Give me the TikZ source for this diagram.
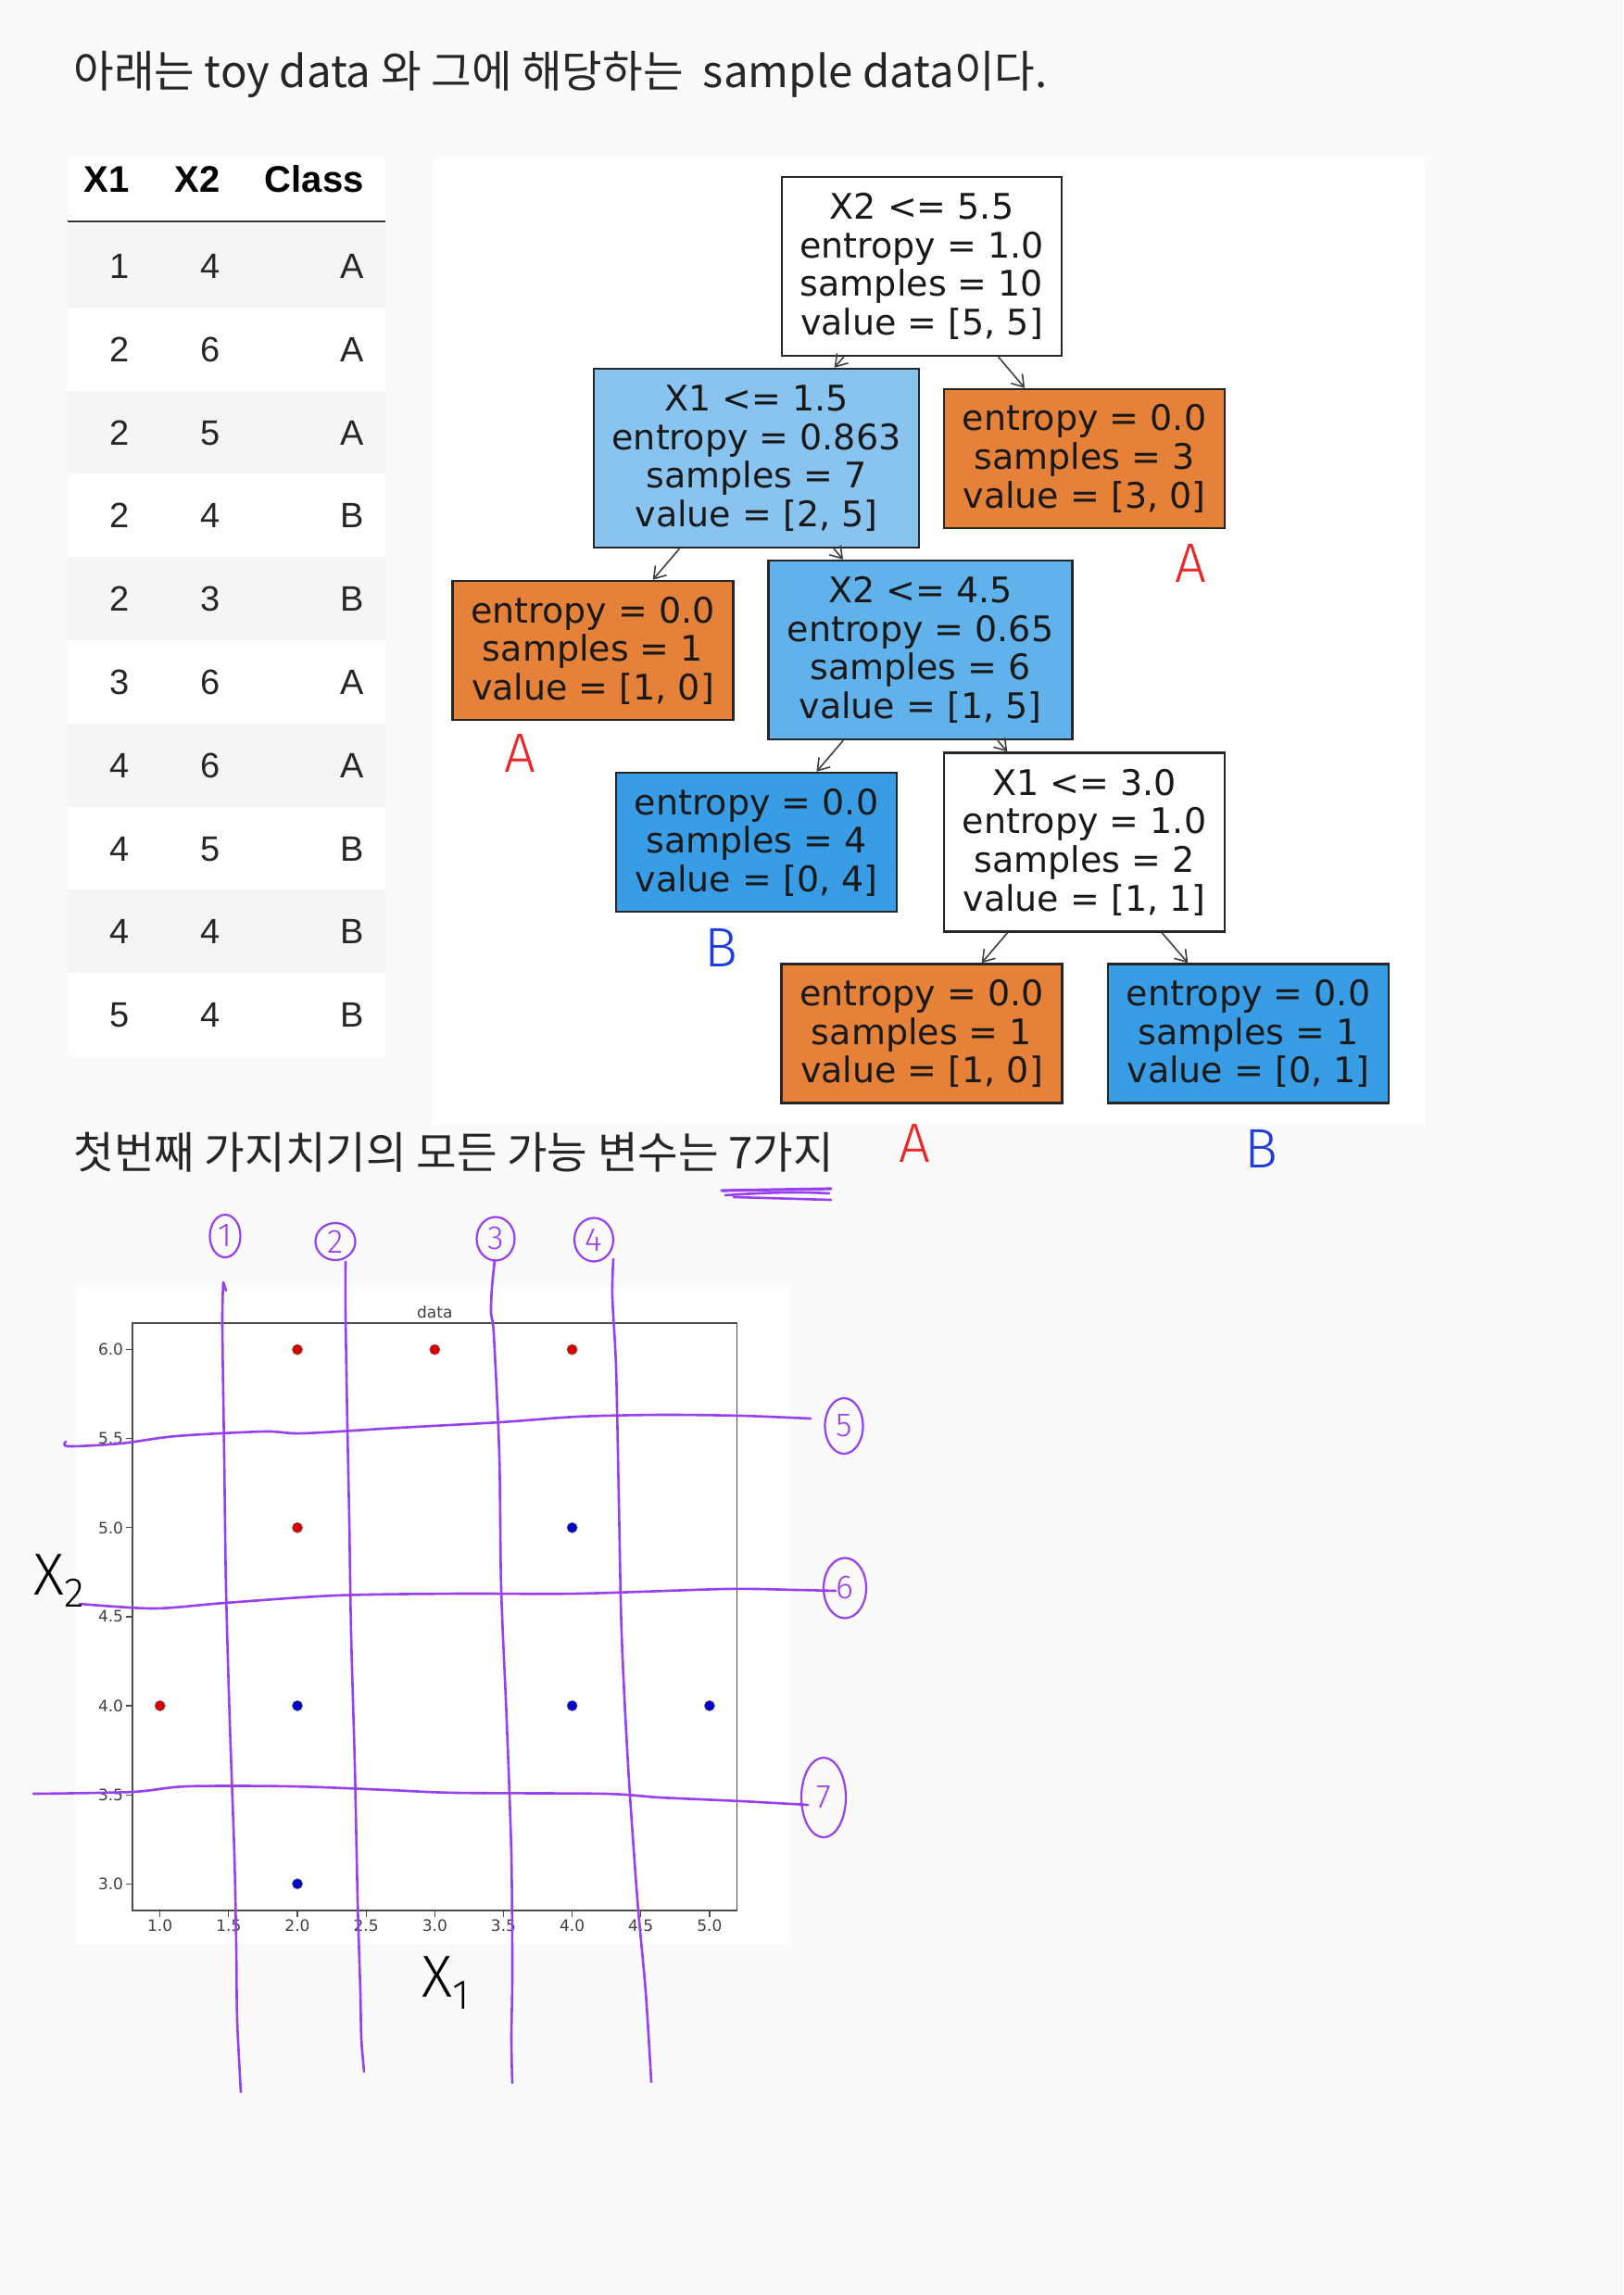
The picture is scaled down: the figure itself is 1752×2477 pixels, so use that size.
\documentclass[tikz,border=0pt]{standalone}
\usepackage{fontspec}
\usetikzlibrary{arrows.meta, shapes.geometric}

\newfontfamily\krfont{Noto Sans CJK KR}
\newfontfamily\treefont{DejaVu Sans}
\newfontfamily\tabfont{Liberation Sans}
\newfontfamily\handfont{Fira Sans Light}

\definecolor{pagebg}{RGB}{250,250,250}
\definecolor{rowgray}{RGB}{245,245,245}
\definecolor{orgfill}{RGB}{229,129,57}
\definecolor{bluefill}{RGB}{57,157,229}
\definecolor{blueA}{RGB}{136,196,239}
\definecolor{blueB}{RGB}{97,177,234}
\definecolor{handpurple}{RGB}{152,64,240}
\definecolor{handred}{RGB}{235,40,40}
\definecolor{handblue}{RGB}{30,60,225}
\definecolor{ptred}{RGB}{215,0,0}
\definecolor{ptblue}{RGB}{0,0,200}

\begin{document}
\begin{tikzpicture}[
  x=0.5pt, y=-0.5pt,
  tbox/.style={draw=black!85, line width=1.2pt, inner sep=0pt, align=center,
    font=\treefont\fontsize{19}{20.8}\selectfont, text=black!90},
  split/.style={tbox, minimum height=96.5pt},
  leaf/.style={tbox, minimum width=151.5pt, minimum height=75pt},
  tarrow/.style={-{Straight Barb[length=6pt,width=8pt]}, line width=0.8pt, black!75},
  cell/.style={anchor=base east, inner sep=0pt, font=\tabfont\fontsize{19}{22}\selectfont, text=black!85},
  headcell/.style={cell, font=\tabfont\bfseries\fontsize{20}{24}\selectfont, text=black},
  heading/.style={anchor=base west, inner sep=0pt, font=\krfont\fontsize{23.7}{28}\selectfont, text=black!85},
  handA/.style={font=\handfont\fontsize{30}{32}\selectfont, text=handred},
  handB/.style={font=\handfont\fontsize{30}{32}\selectfont, text=handblue},
  handx/.style={font=\handfont\fontsize{32}{34}\selectfont, text=black},
  circnum/.style={ellipse, draw=handpurple, line width=1.1pt, inner sep=0pt,
    text=handpurple, font=\handfont\fontsize{18}{20}\selectfont},
  penline/.style={handpurple, line width=1.3pt, line cap=round, line join=round},
  axframe/.style={draw=black!70, line width=0.8pt},
  axtick/.style={black!70, line width=0.6pt},
  ticklbl/.style={inner sep=1.2pt, font=\treefont\fontsize{8.5}{10}\selectfont, text=black!75},
]

\path[use as bounding box, fill=pagebg] (0,0) rectangle (1752,2477);

% Headings
\node[heading] (title) at (79,95) {아래는 toy data 와 그에 해당하는 \ sample data이다.};
\node[heading] (subtitle) at (79,1261) {첫번째 가지치기의 모든 가능 변수는 7가지};

% Panels
\fill[white] (73,171) rectangle (416,1140);
\fill[white] (467,171) rectangle (1537,1215);
\fill[white] (81,1389) rectangle (852,2098);

% Table
\fill[rowgray] (73,242) rectangle (416,331.8);
\fill[rowgray] (73,421.6) rectangle (416,511.4);
\fill[rowgray] (73,601.2) rectangle (416,691);
\fill[rowgray] (73,780.8) rectangle (416,870.6);
\fill[rowgray] (73,960.4) rectangle (416,1050.2);
\draw[black!80, line width=1pt] (73,239) -- (416,239);

\node[headcell] (hx1) at (140,208) {X1};
\node[headcell] (hx2) at (238,208) {X2};
\node[headcell] (hcl) at (393,208) {Class};

\node[cell] (r1a) at (140,300.5) {1};  \node[cell] (r1b) at (238,300.5) {4};  \node[cell] (r1c) at (393,300.5) {A};
\node[cell] (r2a) at (140,390.3) {2};  \node[cell] (r2b) at (238,390.3) {6};  \node[cell] (r2c) at (393,390.3) {A};
\node[cell] (r3a) at (140,480.1) {2};  \node[cell] (r3b) at (238,480.1) {5};  \node[cell] (r3c) at (393,480.1) {A};
\node[cell] (r4a) at (140,569.9) {2};  \node[cell] (r4b) at (238,569.9) {4};  \node[cell] (r4c) at (393,569.9) {B};
\node[cell] (r5a) at (140,659.7) {2};  \node[cell] (r5b) at (238,659.7) {3};  \node[cell] (r5c) at (393,659.7) {B};
\node[cell] (r6a) at (140,749.5) {3};  \node[cell] (r6b) at (238,749.5) {6};  \node[cell] (r6c) at (393,749.5) {A};
\node[cell] (r7a) at (140,839.3) {4};  \node[cell] (r7b) at (238,839.3) {6};  \node[cell] (r7c) at (393,839.3) {A};
\node[cell] (r8a) at (140,929.1) {4};  \node[cell] (r8b) at (238,929.1) {5};  \node[cell] (r8c) at (393,929.1) {B};
\node[cell] (r9a) at (140,1018.9) {4}; \node[cell] (r9b) at (238,1018.9) {4}; \node[cell] (r9c) at (393,1018.9) {B};
\node[cell] (r10a) at (140,1108.7) {5}; \node[cell] (r10b) at (238,1108.7) {4}; \node[cell] (r10c) at (393,1108.7) {B};

% Decision tree
\node[split, fill=white, minimum width=151pt] (root) at (995,287.5) {X2 <= 5.5\\entropy = 1.0\\samples = 10\\value = [5, 5]};
\node[split, fill=blueA, minimum width=175.5pt] (n1) at (816.5,494.5) {X1 <= 1.5\\entropy = 0.863\\samples = 7\\value = [2, 5]};
\node[leaf, fill=orgfill] (n2) at (1170.5,495) {entropy = 0.0\\samples = 3\\value = [3, 0]};
\node[leaf, fill=orgfill] (n3) at (640,702) {entropy = 0.0\\samples = 1\\value = [1, 0]};
\node[split, fill=blueB, minimum width=164pt] (n4) at (993.5,701.5) {X2 <= 4.5\\entropy = 0.65\\samples = 6\\value = [1, 5]};
\node[leaf, fill=bluefill] (n5) at (816.5,909) {entropy = 0.0\\samples = 4\\value = [0, 4]};
\node[split, fill=white, minimum width=151.5pt] (n6) at (1170.5,909) {X1 <= 3.0\\entropy = 1.0\\samples = 2\\value = [1, 1]};
\node[leaf, fill=orgfill] (n7) at (995,1115.5) {entropy = 0.0\\samples = 1\\value = [1, 0]};
\node[leaf, fill=bluefill] (n8) at (1347.5,1115.5) {entropy = 0.0\\samples = 1\\value = [0, 1]};

\draw[tarrow] (root) -- (n1);
\draw[tarrow] (root) -- (n2);
\draw[tarrow] (n1) -- (n3);
\draw[tarrow] (n1) -- (n4);
\draw[tarrow] (n4) -- (n5);
\draw[tarrow] (n4) -- (n6);
\draw[tarrow] (n6) -- (n7);
\draw[tarrow] (n6) -- (n8);

% Class marks
\node[handA] (markA1) at (1285,608) {A};
\node[handA] (markA2) at (561,813) {A};
\node[handB] (markB1) at (778,1023) {B};
\node[handA] (markA3) at (987,1234) {A};
\node[handB] (markB2) at (1361,1240) {B};

% Scatter plot
\begin{scope}[shift={(24.4,2609.8)}, x=74.15pt, y=96.1pt]
  \draw[axframe] (0.8,2.85) rectangle (5.2,6.15);
  \node[ticklbl, above=1pt] (ptitle) at (3.0,6.15) {data};

  \draw[axtick] (1.0,2.85) -- ++(0,-3.5pt) node[ticklbl, below] (tx1) {1.0};
  \draw[axtick] (1.5,2.85) -- ++(0,-3.5pt) node[ticklbl, below] (tx2) {1.5};
  \draw[axtick] (2.0,2.85) -- ++(0,-3.5pt) node[ticklbl, below] (tx3) {2.0};
  \draw[axtick] (2.5,2.85) -- ++(0,-3.5pt) node[ticklbl, below] (tx4) {2.5};
  \draw[axtick] (3.0,2.85) -- ++(0,-3.5pt) node[ticklbl, below] (tx5) {3.0};
  \draw[axtick] (3.5,2.85) -- ++(0,-3.5pt) node[ticklbl, below] (tx6) {3.5};
  \draw[axtick] (4.0,2.85) -- ++(0,-3.5pt) node[ticklbl, below] (tx7) {4.0};
  \draw[axtick] (4.5,2.85) -- ++(0,-3.5pt) node[ticklbl, below] (tx8) {4.5};
  \draw[axtick] (5.0,2.85) -- ++(0,-3.5pt) node[ticklbl, below] (tx9) {5.0};

  \draw[axtick] (0.8,3.0) -- ++(-3.5pt,0) node[ticklbl, left] (ty1) {3.0};
  \draw[axtick] (0.8,3.5) -- ++(-3.5pt,0) node[ticklbl, left] (ty2) {3.5};
  \draw[axtick] (0.8,4.0) -- ++(-3.5pt,0) node[ticklbl, left] (ty3) {4.0};
  \draw[axtick] (0.8,4.5) -- ++(-3.5pt,0) node[ticklbl, left] (ty4) {4.5};
  \draw[axtick] (0.8,5.0) -- ++(-3.5pt,0) node[ticklbl, left] (ty5) {5.0};
  \draw[axtick] (0.8,5.5) -- ++(-3.5pt,0) node[ticklbl, left] (ty6) {5.5};
  \draw[axtick] (0.8,6.0) -- ++(-3.5pt,0) node[ticklbl, left] (ty7) {6.0};

  % class A points
  \filldraw[fill=ptred, draw=black!55, line width=0.3pt] (1,4) circle (2.8pt);
  \filldraw[fill=ptred, draw=black!55, line width=0.3pt] (2,6) circle (2.8pt);
  \filldraw[fill=ptred, draw=black!55, line width=0.3pt] (2,5) circle (2.8pt);
  \filldraw[fill=ptred, draw=black!55, line width=0.3pt] (3,6) circle (2.8pt);
  \filldraw[fill=ptred, draw=black!55, line width=0.3pt] (4,6) circle (2.8pt);
  % class B points
  \filldraw[fill=ptblue, draw=black!55, line width=0.3pt] (2,4) circle (2.8pt);
  \filldraw[fill=ptblue, draw=black!55, line width=0.3pt] (2,3) circle (2.8pt);
  \filldraw[fill=ptblue, draw=black!55, line width=0.3pt] (4,5) circle (2.8pt);
  \filldraw[fill=ptblue, draw=black!55, line width=0.3pt] (4,4) circle (2.8pt);
  \filldraw[fill=ptblue, draw=black!55, line width=0.3pt] (5,4) circle (2.8pt);
\end{scope}

% Hand-drawn split lines
\draw[penline] (244,1393) -- (241,1384);
\draw[penline] plot[smooth] coordinates {(241,1384) (240,1430) (242,1571) (244,1715) (248,1858) (253,2002) (255,2100) (256,2180) (260,2258)};
\draw[penline] plot[smooth] coordinates {(373,1362) (373,1420) (375,1540) (377,1640) (379,1763) (383,1906) (386,2050) (389,2150) (390,2200) (393,2236)};
\draw[penline] plot[smooth] coordinates {(534,1360) (531,1390) (530,1418) (533,1440) (539,1571) (541,1715) (547,1858) (552,2002) (553,2130) (552,2200) (553,2248)};
\draw[penline] plot[smooth] coordinates {(662,1359) (661,1400) (665,1476) (668,1619) (671,1763) (678,1906) (688,2050) (697,2150) (703,2247)};

\draw[penline] plot[smooth] coordinates {(71,1556) (74,1561) (130,1558) (190,1550) (285,1545) (327,1547) (430,1541) (540,1535) (623,1529) (712,1527) (800,1528) (875,1531)};
\draw[penline] plot[smooth] coordinates {(86,1731) (166,1736) (243,1730) (362,1722) (493,1720) (623,1720) (783,1715) (860,1716) (902,1717)};
\draw[penline] plot[smooth] coordinates {(36,1936) (143,1934) (202,1928) (315,1928) (420,1932) (493,1935) (653,1936) (712,1940) (800,1944) (872,1948)};

% Circled numbers
\node[circnum, minimum width=16.5pt, minimum height=23pt] (c1) at (243,1334) {1};
\node[circnum, minimum width=21.5pt, minimum height=20pt] (c2) at (362,1340) {2};
\node[circnum, minimum width=20.5pt, minimum height=23.5pt] (c3) at (535,1337) {3};
\node[circnum, minimum width=21pt, minimum height=23.5pt] (c4) at (641,1338) {4};
\node[circnum, minimum width=20.5pt, minimum height=30pt] (c5) at (911,1539) {5};
\node[circnum, minimum width=23pt, minimum height=32.5pt] (c6) at (912,1714) {6};
\node[circnum, minimum width=24pt, minimum height=43pt] (c7) at (889,1940) {7};

% Underline under the count
\draw[penline, line width=1.6pt] (779,1285) -- (897,1283);
\draw[penline] (783,1290) .. controls (830,1287) and (860,1286) .. (895,1288);
\draw[penline] (792,1292) -- (897,1295);

% Axis names
\node[handx] (xtwo) at (64,1706) {X\textsubscript{2}};
\node[handx] (xone) at (482,2140) {X\textsubscript{1}};

\end{tikzpicture}
\end{document}
